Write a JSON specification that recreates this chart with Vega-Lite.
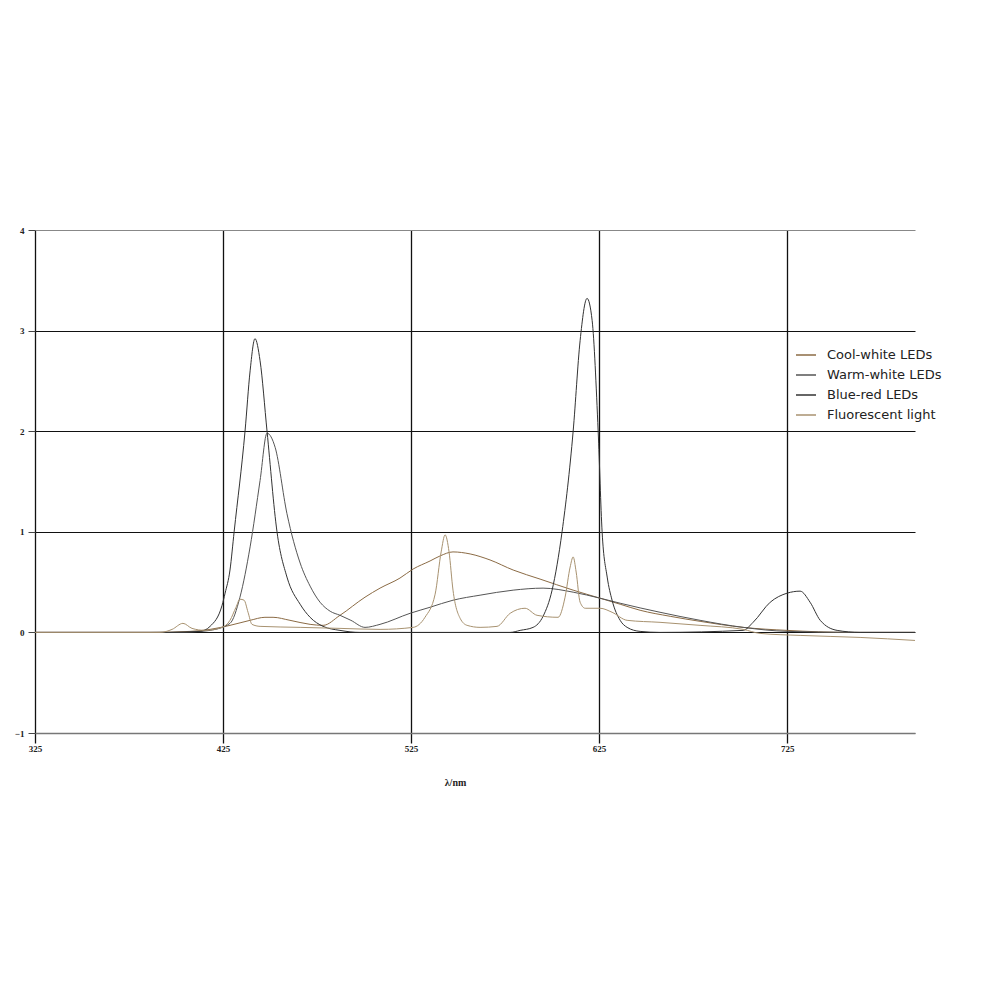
{
  "$schema": "https://vega.github.io/schema/vega-lite/v6.json",
  "width": 880,
  "height": 503,
  "autosize": {"type": "none"},
  "padding": {"left": 35, "top": 230, "right": 85, "bottom": 267},
  "background": "white",
  "data": {
    "values": [
      {"s": "Cool-white LEDs", "wl": 325, "v": 0},
      {"s": "Cool-white LEDs", "wl": 386.2, "v": 0},
      {"s": "Cool-white LEDs", "wl": 407.4, "v": 0.01},
      {"s": "Cool-white LEDs", "wl": 418.1, "v": 0.03},
      {"s": "Cool-white LEDs", "wl": 428.7, "v": 0.07},
      {"s": "Cool-white LEDs", "wl": 439.4, "v": 0.12},
      {"s": "Cool-white LEDs", "wl": 447.3, "v": 0.15},
      {"s": "Cool-white LEDs", "wl": 451.6, "v": 0.15},
      {"s": "Cool-white LEDs", "wl": 460.6, "v": 0.12},
      {"s": "Cool-white LEDs", "wl": 471.3, "v": 0.08},
      {"s": "Cool-white LEDs", "wl": 478.2, "v": 0.07},
      {"s": "Cool-white LEDs", "wl": 487.2, "v": 0.17},
      {"s": "Cool-white LEDs", "wl": 500.5, "v": 0.35},
      {"s": "Cool-white LEDs", "wl": 508.5, "v": 0.44},
      {"s": "Cool-white LEDs", "wl": 519.1, "v": 0.54},
      {"s": "Cool-white LEDs", "wl": 526.1, "v": 0.63},
      {"s": "Cool-white LEDs", "wl": 535.1, "v": 0.71},
      {"s": "Cool-white LEDs", "wl": 540.4, "v": 0.76},
      {"s": "Cool-white LEDs", "wl": 547.3, "v": 0.8},
      {"s": "Cool-white LEDs", "wl": 556.4, "v": 0.78},
      {"s": "Cool-white LEDs", "wl": 567.0, "v": 0.72},
      {"s": "Cool-white LEDs", "wl": 579.3, "v": 0.62},
      {"s": "Cool-white LEDs", "wl": 593.6, "v": 0.53},
      {"s": "Cool-white LEDs", "wl": 611.2, "v": 0.42},
      {"s": "Cool-white LEDs", "wl": 625.5, "v": 0.34},
      {"s": "Cool-white LEDs", "wl": 636.2, "v": 0.28},
      {"s": "Cool-white LEDs", "wl": 646.8, "v": 0.22},
      {"s": "Cool-white LEDs", "wl": 662.8, "v": 0.16},
      {"s": "Cool-white LEDs", "wl": 678.7, "v": 0.11},
      {"s": "Cool-white LEDs", "wl": 701.6, "v": 0.05},
      {"s": "Cool-white LEDs", "wl": 725.0, "v": 0.02},
      {"s": "Cool-white LEDs", "wl": 758.5, "v": 0},
      {"s": "Cool-white LEDs", "wl": 793, "v": 0},

      {"s": "Warm-white LEDs", "wl": 325, "v": 0},
      {"s": "Warm-white LEDs", "wl": 396.8, "v": 0},
      {"s": "Warm-white LEDs", "wl": 412.8, "v": 0.01},
      {"s": "Warm-white LEDs", "wl": 418.1, "v": 0.02},
      {"s": "Warm-white LEDs", "wl": 428.7, "v": 0.09},
      {"s": "Warm-white LEDs", "wl": 434.0, "v": 0.35},
      {"s": "Warm-white LEDs", "wl": 439.4, "v": 0.85},
      {"s": "Warm-white LEDs", "wl": 444.7, "v": 1.51},
      {"s": "Warm-white LEDs", "wl": 448.4, "v": 1.98},
      {"s": "Warm-white LEDs", "wl": 452.7, "v": 1.84},
      {"s": "Warm-white LEDs", "wl": 459.0, "v": 1.18},
      {"s": "Warm-white LEDs", "wl": 466.0, "v": 0.69},
      {"s": "Warm-white LEDs", "wl": 471.3, "v": 0.46},
      {"s": "Warm-white LEDs", "wl": 476.6, "v": 0.3},
      {"s": "Warm-white LEDs", "wl": 482.0, "v": 0.21},
      {"s": "Warm-white LEDs", "wl": 487.2, "v": 0.17},
      {"s": "Warm-white LEDs", "wl": 493.0, "v": 0.12},
      {"s": "Warm-white LEDs", "wl": 500.5, "v": 0.05},
      {"s": "Warm-white LEDs", "wl": 508.5, "v": 0.08},
      {"s": "Warm-white LEDs", "wl": 524.5, "v": 0.19},
      {"s": "Warm-white LEDs", "wl": 535.1, "v": 0.25},
      {"s": "Warm-white LEDs", "wl": 547.3, "v": 0.32},
      {"s": "Warm-white LEDs", "wl": 561.7, "v": 0.37},
      {"s": "Warm-white LEDs", "wl": 579.3, "v": 0.42},
      {"s": "Warm-white LEDs", "wl": 595.2, "v": 0.44},
      {"s": "Warm-white LEDs", "wl": 611.2, "v": 0.4},
      {"s": "Warm-white LEDs", "wl": 625.5, "v": 0.34},
      {"s": "Warm-white LEDs", "wl": 636.2, "v": 0.29},
      {"s": "Warm-white LEDs", "wl": 657.4, "v": 0.2},
      {"s": "Warm-white LEDs", "wl": 678.7, "v": 0.12},
      {"s": "Warm-white LEDs", "wl": 701.6, "v": 0.05},
      {"s": "Warm-white LEDs", "wl": 725.0, "v": 0.01},
      {"s": "Warm-white LEDs", "wl": 763.8, "v": 0},
      {"s": "Warm-white LEDs", "wl": 793, "v": 0},

      {"s": "Blue-red LEDs", "wl": 325, "v": 0},
      {"s": "Blue-red LEDs", "wl": 396.8, "v": 0},
      {"s": "Blue-red LEDs", "wl": 412.8, "v": 0.01},
      {"s": "Blue-red LEDs", "wl": 418.1, "v": 0.06},
      {"s": "Blue-red LEDs", "wl": 424.5, "v": 0.27},
      {"s": "Blue-red LEDs", "wl": 426.1, "v": 0.39},
      {"s": "Blue-red LEDs", "wl": 428.7, "v": 0.62},
      {"s": "Blue-red LEDs", "wl": 430.9, "v": 1.0},
      {"s": "Blue-red LEDs", "wl": 436.7, "v": 2.0},
      {"s": "Blue-red LEDs", "wl": 439.4, "v": 2.6},
      {"s": "Blue-red LEDs", "wl": 442.0, "v": 2.92},
      {"s": "Blue-red LEDs", "wl": 444.7, "v": 2.7},
      {"s": "Blue-red LEDs", "wl": 448.4, "v": 2.0},
      {"s": "Blue-red LEDs", "wl": 453.7, "v": 1.0},
      {"s": "Blue-red LEDs", "wl": 459.0, "v": 0.55},
      {"s": "Blue-red LEDs", "wl": 466.0, "v": 0.28},
      {"s": "Blue-red LEDs", "wl": 471.3, "v": 0.15},
      {"s": "Blue-red LEDs", "wl": 478.2, "v": 0.06},
      {"s": "Blue-red LEDs", "wl": 487.2, "v": 0.02},
      {"s": "Blue-red LEDs", "wl": 497.9, "v": 0},
      {"s": "Blue-red LEDs", "wl": 577.7, "v": 0},
      {"s": "Blue-red LEDs", "wl": 583.0, "v": 0.02},
      {"s": "Blue-red LEDs", "wl": 589.9, "v": 0.05},
      {"s": "Blue-red LEDs", "wl": 595.2, "v": 0.16},
      {"s": "Blue-red LEDs", "wl": 600.0, "v": 0.42},
      {"s": "Blue-red LEDs", "wl": 605.3, "v": 1.0},
      {"s": "Blue-red LEDs", "wl": 611.2, "v": 2.0},
      {"s": "Blue-red LEDs", "wl": 614.9, "v": 2.9},
      {"s": "Blue-red LEDs", "wl": 618.6, "v": 3.32},
      {"s": "Blue-red LEDs", "wl": 621.3, "v": 3.1},
      {"s": "Blue-red LEDs", "wl": 624.5, "v": 2.0},
      {"s": "Blue-red LEDs", "wl": 626.6, "v": 1.0},
      {"s": "Blue-red LEDs", "wl": 629.3, "v": 0.55},
      {"s": "Blue-red LEDs", "wl": 631.9, "v": 0.32},
      {"s": "Blue-red LEDs", "wl": 636.2, "v": 0.12},
      {"s": "Blue-red LEDs", "wl": 639.9, "v": 0.05},
      {"s": "Blue-red LEDs", "wl": 646.8, "v": 0.01},
      {"s": "Blue-red LEDs", "wl": 657.4, "v": 0},
      {"s": "Blue-red LEDs", "wl": 701.6, "v": 0.02},
      {"s": "Blue-red LEDs", "wl": 706.9, "v": 0.1},
      {"s": "Blue-red LEDs", "wl": 716.0, "v": 0.3},
      {"s": "Blue-red LEDs", "wl": 725.0, "v": 0.39},
      {"s": "Blue-red LEDs", "wl": 731.9, "v": 0.41},
      {"s": "Blue-red LEDs", "wl": 737.2, "v": 0.3},
      {"s": "Blue-red LEDs", "wl": 742.6, "v": 0.12},
      {"s": "Blue-red LEDs", "wl": 751.6, "v": 0.02},
      {"s": "Blue-red LEDs", "wl": 763.8, "v": 0},
      {"s": "Blue-red LEDs", "wl": 793, "v": 0},

      {"s": "Fluorescent light", "wl": 325, "v": 0},
      {"s": "Fluorescent light", "wl": 391.5, "v": 0},
      {"s": "Fluorescent light", "wl": 397.9, "v": 0.03},
      {"s": "Fluorescent light", "wl": 403.7, "v": 0.09},
      {"s": "Fluorescent light", "wl": 408.5, "v": 0.04},
      {"s": "Fluorescent light", "wl": 415.4, "v": 0.02},
      {"s": "Fluorescent light", "wl": 424.5, "v": 0.05},
      {"s": "Fluorescent light", "wl": 428.7, "v": 0.12},
      {"s": "Fluorescent light", "wl": 431.9, "v": 0.25},
      {"s": "Fluorescent light", "wl": 434.0, "v": 0.33},
      {"s": "Fluorescent light", "wl": 436.2, "v": 0.32},
      {"s": "Fluorescent light", "wl": 438.3, "v": 0.2},
      {"s": "Fluorescent light", "wl": 440.4, "v": 0.08},
      {"s": "Fluorescent light", "wl": 444.7, "v": 0.06},
      {"s": "Fluorescent light", "wl": 466.0, "v": 0.05},
      {"s": "Fluorescent light", "wl": 487.2, "v": 0.04},
      {"s": "Fluorescent light", "wl": 508.5, "v": 0.03},
      {"s": "Fluorescent light", "wl": 526.1, "v": 0.05},
      {"s": "Fluorescent light", "wl": 532.4, "v": 0.15},
      {"s": "Fluorescent light", "wl": 537.8, "v": 0.38},
      {"s": "Fluorescent light", "wl": 541.0, "v": 0.8},
      {"s": "Fluorescent light", "wl": 543.1, "v": 0.97},
      {"s": "Fluorescent light", "wl": 545.2, "v": 0.8},
      {"s": "Fluorescent light", "wl": 547.3, "v": 0.42},
      {"s": "Fluorescent light", "wl": 551.1, "v": 0.14},
      {"s": "Fluorescent light", "wl": 554.8, "v": 0.07},
      {"s": "Fluorescent light", "wl": 561.7, "v": 0.05},
      {"s": "Fluorescent light", "wl": 570.7, "v": 0.06},
      {"s": "Fluorescent light", "wl": 577.7, "v": 0.19},
      {"s": "Fluorescent light", "wl": 585.6, "v": 0.24},
      {"s": "Fluorescent light", "wl": 592.0, "v": 0.17},
      {"s": "Fluorescent light", "wl": 603.2, "v": 0.15},
      {"s": "Fluorescent light", "wl": 606.9, "v": 0.35},
      {"s": "Fluorescent light", "wl": 609.6, "v": 0.65},
      {"s": "Fluorescent light", "wl": 611.2, "v": 0.75},
      {"s": "Fluorescent light", "wl": 612.8, "v": 0.6},
      {"s": "Fluorescent light", "wl": 614.9, "v": 0.3},
      {"s": "Fluorescent light", "wl": 617.6, "v": 0.24},
      {"s": "Fluorescent light", "wl": 625.5, "v": 0.24},
      {"s": "Fluorescent light", "wl": 631.9, "v": 0.2},
      {"s": "Fluorescent light", "wl": 639.9, "v": 0.12},
      {"s": "Fluorescent light", "wl": 657.4, "v": 0.1},
      {"s": "Fluorescent light", "wl": 678.7, "v": 0.07},
      {"s": "Fluorescent light", "wl": 701.6, "v": 0.03},
      {"s": "Fluorescent light", "wl": 710.6, "v": -0.01},
      {"s": "Fluorescent light", "wl": 731.9, "v": -0.03},
      {"s": "Fluorescent light", "wl": 763.8, "v": -0.05},
      {"s": "Fluorescent light", "wl": 793, "v": -0.08}
    ]
  },
  "mark": {"type": "line", "strokeWidth": 1, "interpolate": "monotone", "clip": true},
  "encoding": {
    "x": {
      "field": "wl",
      "type": "quantitative",
      "scale": {"domain": [325, 793], "nice": false, "zero": false},
      "axis": {
        "values": [325, 425, 525, 625, 725],
        "labelFlush": false,
        "title": "λ/nm",
        "titleX": 420,
        "titlePadding": 24,
        "tickSize": 10,
        "labelPadding": 1,
        "gridColor": "#111",
        "gridWidth": 1.3,
        "tickColor": "#111",
        "tickWidth": 1.3,
        "domainColor": "#777",
        "domainWidth": 1.5
      }
    },
    "y": {
      "field": "v",
      "type": "quantitative",
      "scale": {"domain": [-1, 4], "nice": false},
      "axis": {
        "values": [-1, 0, 1, 2, 3, 4],
        "labelFlush": false,
        "title": null,
        "domain": false,
        "tickSize": 7,
        "labelPadding": 4,
        "tickColor": "#444",
        "gridColor": {"condition": {"test": "datum.value == 4 || datum.value == -1", "value": "#888"}, "value": "#111"},
        "gridWidth": 1.1
      }
    },
    "color": {
      "field": "s",
      "type": "nominal",
      "scale": {
        "domain": ["Cool-white LEDs", "Warm-white LEDs", "Blue-red LEDs", "Fluorescent light"],
        "range": ["#8b6b45", "#555555", "#333333", "#a89270"]
      },
      "legend": {
        "title": null,
        "orient": "none",
        "legendX": 760,
        "legendY": 114,
        "symbolType": "stroke",
        "symbolSize": 400,
        "symbolStrokeWidth": 1.5,
        "rowPadding": 2,
        "labelOffset": 10,
        "labelFont": "DejaVu Sans",
        "labelFontSize": 13,
        "labelColor": "#222",
        "padding": 0
      }
    }
  },
  "config": {
    "view": {"stroke": null},
    "axis": {
      "grid": true,
      "labelFont": "Liberation Serif",
      "labelFontSize": 9,
      "labelFontWeight": "bold",
      "labelColor": "#222",
      "titleFont": "Liberation Serif",
      "titleFontSize": 10,
      "titleFontWeight": "bold",
      "titleColor": "#222"
    }
  }
}
